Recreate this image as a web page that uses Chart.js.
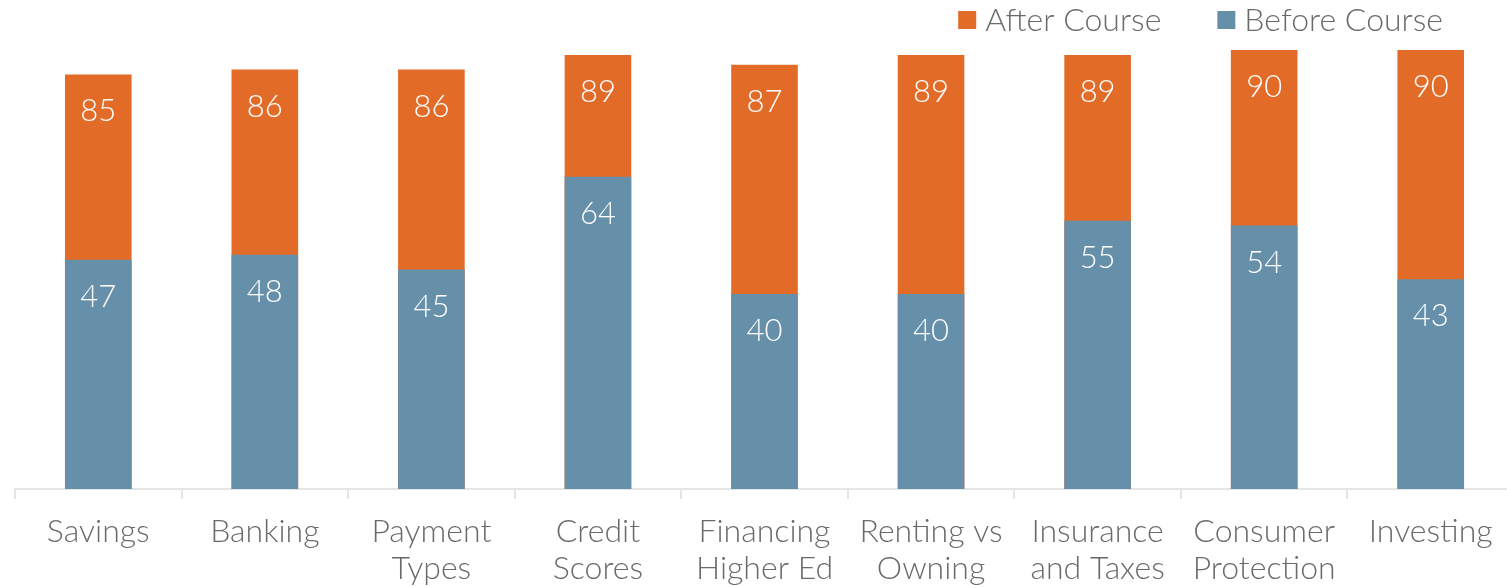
<!DOCTYPE html>
<html>
<head>
<meta charset="utf-8">
<script src="https://cdn.jsdelivr.net/npm/chart.js@4.4.1/dist/chart.umd.min.js"></script>
<style>
html, body { margin: 0; padding: 0; overflow: hidden; background: #fff; }
#wrap { position: relative; width: 1514px; height: 586px; }
</style>
</head>
<body>
<div id="wrap"><canvas id="chart_courseScores"></canvas></div>
<script>
var topics = [
    ['Savings'], ['Banking'], ['Payment', 'Types'], ['Credit', 'Scores'],
    ['Financing', 'Higher Ed'], ['Renting vs', 'Owning'], ['Insurance', 'and Taxes'],
    ['Consumer', 'Protection'], ['Investing']
];
var beforeCourse = [47, 48, 45, 64, 40, 40, 55, 54, 43];
var afterCourse = [85, 86, 86, 89, 87, 89, 89, 90, 90];

var textFont = 'Lato';
var textColor = '#676b6c';

// white value labels just inside the top of each bar
var barLabels = {
    id: 'barLabels',
    afterDatasetsDraw: (chart) => {
        const ctx = chart.ctx;
        ctx.save();
        ctx.fillStyle = '#ffffff';
        ctx.font = '300 31px ' + textFont;
        ctx.textAlign = 'center';
        ctx.textBaseline = 'middle';
        chart.data.datasets.forEach((ds, i) => {
            chart.getDatasetMeta(i).data.forEach((bar, j) => {
                ctx.fillText(ds.data[j], bar.x, bar.y + 37);
            });
        });
        ctx.restore();
    }
};

// legend drawn top right, After Course first
var topLegend = {
    id: 'topLegend',
    afterDraw: (chart) => {
        const ctx = chart.ctx;
        ctx.save();
        ctx.font = '300 32px ' + textFont;
        ctx.textBaseline = 'middle';
        const items = chart.data.datasets.slice().reverse();
        const box = 18, gap = 9, between = 56, cy = 20;
        let total = 0;
        items.forEach((ds, i) => {
            total += box + gap + ctx.measureText(ds.label).width + (i ? between : 0);
        });
        let x = chart.width - 71 - total;
        items.forEach((ds) => {
            ctx.fillStyle = ds.backgroundColor;
            ctx.fillRect(x, cy - box / 2, box, box);
            x += box + gap;
            ctx.fillStyle = textColor;
            ctx.fillText(ds.label, x, cy + 1);
            x += ctx.measureText(ds.label).width + between;
        });
        ctx.restore();
    }
};

var chart_courseScores = new Chart(document.getElementById('chart_courseScores'), {
    type: 'bar',
    data: {
        labels: topics,
        datasets: [
            {
                label: 'Before Course',
                data: beforeCourse,
                backgroundColor: '#6690aa'
            },
            {
                label: 'After Course',
                data: afterCourse,
                backgroundColor: '#e36b28'
            }
        ]
    },
    options: {
        animation: false,
        responsive: true,
        maintainAspectRatio: false,
        categoryPercentage: 1,
        barPercentage: 0.4,
        layout: {
            padding: { top: 50, left: 15, right: 0, bottom: 0 }
        },
        plugins: {
            legend: { display: false },
            tooltip: { enabled: false }
        },
        scales: {
            x: {
                stacked: true,
                afterFit: (scale) => { scale.height = 97; },
                grid: {
                    offset: true,
                    drawOnChartArea: false,
                    drawTicks: true,
                    tickLength: 10,
                    color: '#e4e6e6',
                    lineWidth: 2
                },
                border: { color: '#e4e6e6', width: 2 },
                ticks: {
                    color: textColor,
                    font: { family: textFont, weight: '300', size: 32, lineHeight: 1.15 },
                    padding: 14,
                    maxRotation: 0,
                    autoSkip: false
                }
            },
            y: {
                display: false,
                stacked: false,
                min: 0,
                max: 90
            }
        }
    },
    plugins: [barLabels, topLegend]
});
</script>
</body>
</html>
